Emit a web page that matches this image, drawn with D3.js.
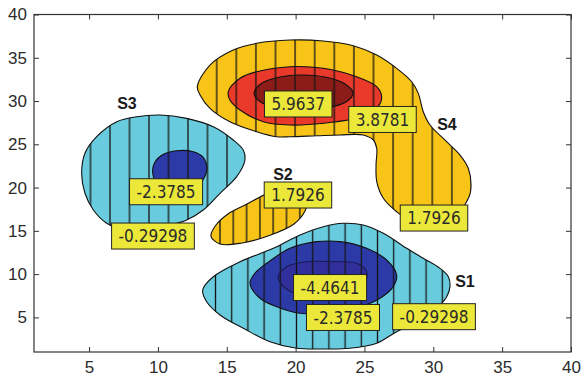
<!DOCTYPE html>
<html>
<head>
<meta charset="utf-8">
<script src="https://cdn.jsdelivr.net/npm/d3@7"></script>
<style>
  html, body { margin: 0; padding: 0; background: #fff; }
  svg { display: block; }
  .tick text { font-family: "Liberation Sans", Arial, sans-serif; font-size: 17px; fill: #2b2b2b; }
  .tick line { stroke: #333; }
</style>
</head>
<body>
<div id="chart"></div>
<script>
const width = 582;
const height = 376;
const margin = {top: 14.5, right: 11, bottom: 24, left: 34};

// contour levels (as labelled by clabel) and the fill of the region each one closes
const levels = [-4.4641, -2.3785, -0.29298, 1.7926, 3.8781, 5.9637];
const levelColors = ["#312f9c", "#2c3aa8", "#68ccde", "#f8c418", "#e8392a", "#8c1c17"];

const xTicks = [5, 10, 15, 20, 25, 30, 35, 40];
const yTicks = [5, 10, 15, 20, 25, 30, 35, 40];

// contour outlines, [x, y] in axis units
const s1Outer = [[13.25,8.16],[14.02,9.70],[15.96,11.43],[18.38,12.98],[20.32,14.52],[22.01,15.48],[23.46,15.87],[24.91,15.68],[26.37,14.72],[28.07,12.98],[29.27,11.83],[30.48,10.67],[31.09,9.70],[31.21,8.55],[30.97,7.39],[30.12,5.85],[28.89,4.47],[27.34,3.35],[25.89,2.01],[23.95,1.43],[22.01,1.35],[20.08,1.43],[18.14,2.19],[16.20,3.74],[14.51,5.28],[13.54,6.81]];
const s1Mid = [[16.69,8.94],[17.12,10.24],[17.90,11.25],[19.59,12.98],[21.53,13.75],[23.22,13.75],[25.16,12.98],[26.61,11.63],[27.34,9.90],[27.09,8.55],[26.13,7.21],[24.67,6.20],[22.50,5.51],[20.32,5.47],[18.63,6.23],[17.41,7.21]];
const s1Inner = [[18.74,9.70],[19.35,10.86],[20.80,11.43],[22.74,11.43],[24.43,11.25],[25.16,10.28],[24.97,8.97],[23.95,7.93],[22.13,7.36],[20.32,7.59],[19.16,8.51]];
const s2Outer = [[13.85,14.40],[14.22,15.68],[15.09,16.95],[16.47,18.10],[17.99,19.37],[19.45,20.30],[20.46,20.18],[20.90,18.91],[20.68,17.29],[19.88,15.79],[17.99,14.40],[16.11,13.60],[14.51,13.48]];
const s3Outer = [[10.15,28.39],[8.46,28.19],[7.01,27.61],[5.55,25.88],[4.70,23.96],[4.46,21.65],[4.70,19.34],[5.31,17.41],[6.28,15.87],[7.25,15.21],[9.06,15.21],[10.88,15.68],[12.09,16.25],[13.29,17.41],[14.51,19.34],[15.72,21.26],[16.32,23.19],[16.20,24.34],[15.47,25.50],[14.02,27.03],[12.09,28.00]];
const s3Inner = [[9.62,21.65],[9.79,22.96],[10.37,23.82],[11.36,24.26],[12.57,24.15],[13.27,23.53],[13.56,22.26],[13.27,20.88],[12.69,19.95],[11.24,19.72],[10.00,20.41]];
const s4Outer = [[12.86,31.66],[13.78,34.16],[15.47,35.90],[17.17,36.67],[19.59,37.05],[22.01,36.94],[24.19,36.39],[25.89,35.32],[27.34,33.78],[28.43,32.23],[28.91,30.89],[29.27,28.77],[29.76,27.23],[30.97,25.30],[31.94,23.76],[32.54,22.23],[32.74,20.30],[32.59,18.91],[31.57,16.83],[29.76,16.25],[27.94,16.60],[27.34,17.21],[26.37,18.76],[25.89,20.68],[25.84,22.61],[25.89,24.54],[25.64,25.50],[24.91,26.08],[23.22,26.08],[21.53,25.99],[19.59,25.88],[18.63,25.88],[17.17,26.46],[15.23,27.61],[13.78,29.16],[13.06,30.70]];
const s4Mid = [[15.11,31.08],[15.96,32.63],[17.17,33.39],[19.59,33.97],[22.01,33.78],[24.43,32.81],[25.89,31.66],[26.25,30.50],[25.98,29.35],[24.67,28.16],[22.01,27.43],[19.59,27.23],[17.65,27.61],[15.96,28.96],[15.23,30.12]];
const s4Inner = [[16.98,30.93],[17.56,32.08],[18.87,32.78],[20.32,33.01],[22.13,32.78],[23.59,31.97],[24.17,30.93],[23.66,29.89],[22.13,29.19],[19.95,28.96],[18.14,29.43],[17.27,30.12]];

const contours = [
    {source: "S1", level: -0.29298, points: s1Outer, outer: true},
    {source: "S1", level: -2.3785, points: s1Mid},
    {source: "S1", level: -4.4641, points: s1Inner},
    {source: "S2", level: 1.7926, points: s2Outer, outer: true},
    {source: "S3", level: -0.29298, points: s3Outer, outer: true},
    {source: "S3", level: -2.3785, points: s3Inner},
    {source: "S4", level: 1.7926, points: s4Outer, outer: true},
    {source: "S4", level: 3.8781, points: s4Mid},
    {source: "S4", level: 5.9637, points: s4Inner}
];

// source names and where they are written
const sourceNames = ["S1", "S2", "S3", "S4"];
const sourceX = [32.30, 19.08, 7.75, 30.99];
const sourceY = [9.20, 21.57, 29.77, 27.35];

// clabel boxes
const labelValues = ["5.9637", "3.8781", "1.7926", "1.7926", "-2.3785", "-0.29298", "-4.4641", "-2.3785", "-0.29298"];
const labelX = [20.19, 26.31, 20.17, 30.05, 10.59, 9.64, 22.50, 23.44, 30.05];
const labelY = [29.66, 27.87, 19.14, 16.48, 19.52, 14.40, 8.45, 4.99, 5.08];

// hatch spacing / phase per source (px)
const hatchStyle = {
    S1: {step: 16.2, phase: 231.7},
    S2: {step: 13.3, phase: 220},
    S3: {step: 19.5, phase: 110},
    S4: {step: 19.6, phase: 216.7}
};

const svg = d3.select("#chart")
    .append("svg")
    .attr("width", width)
    .attr("height", height);

const x = d3.scaleLinear()
    .domain([1, 40])
    .range([margin.left, width - margin.right]);
const y = d3.scaleLinear()
    .domain([1, 40])
    .range([height - margin.bottom, margin.top]);

const fill = d3.scaleOrdinal()
    .domain(levels)
    .range(levelColors);

const line = d3.line()
    .x(d => x(d[0]))
    .y(d => y(d[1]))
    .curve(d3.curveCatmullRomClosed.alpha(0.5));

const defs = svg.append("defs");
Object.entries(hatchStyle).forEach(([name, h]) => {
    const p = defs.append("pattern")
        .attr("id", "hatch-" + name)
        .attr("patternUnits", "userSpaceOnUse")
        .attr("x", h.phase - h.step / 2)
        .attr("y", 0)
        .attr("width", h.step)
        .attr("height", 10);
    p.append("line")
        .attr("x1", h.step / 2).attr("x2", h.step / 2)
        .attr("y1", 0).attr("y2", 10)
        .attr("stroke", "#151515")
        .attr("stroke-width", 1.3);
});

// filled regions
svg.append("g")
    .selectAll("path")
    .data(contours)
    .join("path")
    .attr("d", d => line(d.points))
    .attr("fill", d => fill(d.level));

// vertical hatching over each source
svg.append("g")
    .selectAll("path")
    .data(contours.filter(d => d.outer))
    .join("path")
    .attr("d", d => line(d.points))
    .attr("fill", d => `url(#hatch-${d.source})`);

// contour lines
svg.append("g")
    .selectAll("path")
    .data(contours)
    .join("path")
    .attr("d", d => line(d.points))
    .attr("fill", "none")
    .attr("stroke", d => d.level === -4.4641 ? "#1a1a50" : "#111")
    .attr("stroke-width", 1.1);

// axes box with inward ticks
const axisG = svg.append("g");
axisG.append("g")
    .attr("transform", `translate(0,${height - margin.bottom})`)
    .call(d3.axisBottom(x).tickValues(xTicks).tickSize(-5).tickPadding(9));
axisG.append("g")
    .attr("transform", `translate(${margin.left},0)`)
    .call(d3.axisLeft(y).tickValues(yTicks).tickSize(-5).tickPadding(7));
axisG.append("g")
    .attr("transform", `translate(0,${margin.top})`)
    .call(d3.axisTop(x).tickValues(xTicks).tickSize(-5).tickFormat(""));
axisG.append("g")
    .attr("transform", `translate(${width - margin.right},0)`)
    .call(d3.axisRight(y).tickValues(yTicks).tickSize(-5).tickFormat(""));
axisG.selectAll(".domain").remove();
svg.append("rect")
    .attr("x", margin.left)
    .attr("y", margin.top)
    .attr("width", width - margin.left - margin.right)
    .attr("height", height - margin.top - margin.bottom)
    .attr("fill", "none")
    .attr("stroke", "#333")
    .attr("stroke-width", 1.2);

// source names
svg.append("g")
    .selectAll("text")
    .data(sourceNames)
    .join("text")
    .attr("x", (d, i) => x(sourceX[i]))
    .attr("y", (d, i) => y(sourceY[i]))
    .attr("dy", "0.36em")
    .attr("text-anchor", "middle")
    .style("font-family", "'Liberation Sans', Arial, sans-serif")
    .style("font-size", "16px")
    .style("font-weight", 700)
    .style("fill", "#1a1a1a")
    .text(d => d);

// contour value labels
const labels = svg.append("g")
    .selectAll("g")
    .data(labelValues)
    .join("g")
    .attr("transform", (d, i) => `translate(${x(labelX[i])},${y(labelY[i])})`);

labels.append("rect");
labels.append("text")
    .attr("text-anchor", "middle")
    .attr("dy", "0.36em")
    .style("font-family", "'Liberation Sans Narrow', 'DejaVu Sans Condensed', Arial, sans-serif")
    .style("font-size", "17px")
    .style("fill", "#2a2a2a")
    .text(d => d);

labels.each(function () {
    const g = d3.select(this);
    const w = g.select("text").node().getComputedTextLength() + 14;
    g.select("rect")
        .attr("x", -w / 2)
        .attr("y", -13)
        .attr("width", w)
        .attr("height", 26)
        .attr("fill", "#ebe83a")
        .attr("stroke", "#222")
        .attr("stroke-width", 1);
});
</script>
</body>
</html>
